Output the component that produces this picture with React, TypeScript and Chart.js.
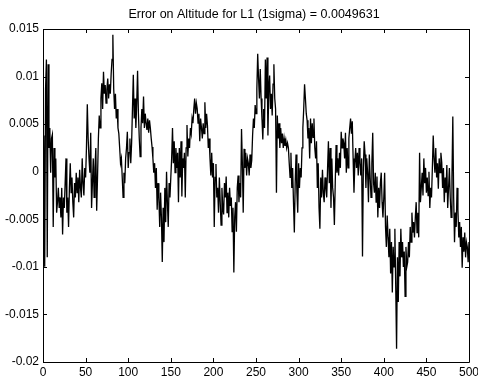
import React, { useEffect, useRef } from "react";
import { Chart, registerables } from "chart.js";

Chart.register(...registerables);

const titleText = "Error on Altitude for L1 (1sigma) = 0.0049631";

const xTickValues = [0, 50, 100, 150, 200, 250, 300, 350, 400, 450, 500];
const xTickLabels = ["0", "50", "100", "150", "200", "250", "300", "350", "400", "450", "500"];
const yTickValues = [0.015, 0.01, 0.005, 0, -0.005, -0.01, -0.015, -0.02];
const yTickLabels = ["0.015", "0.01", "0.005", "0", "-0.005", "-0.01", "-0.015", "-0.02"];

// altitude error per sample (samples 1..500)
const altitudeError = [
  38e-4, -100e-4, 87e-4, 118e-4, -90e-4, 113e-4, 25e-4, 46e-4, -1e-4, 35e-4,
  39e-4, -58e-4, 25e-4, -6e-4, 14e-4, -43e-4, -32e-4, -17e-4, -38e-4, -27e-4,
  -48e-4, -17e-4, -66e-4, -27e-4, -38e-4, -12e-4, 14e-4, -43e-4, -27e-4, -58e-4,
  -17e-4, 9e-4, -22e-4, -6e-4, -32e-4, -48e-4, -12e-4, -27e-4, -1e-4, -22e-4,
  -6e-4, -32e-4, 2e-4, -17e-4, -27e-4, 14e-4, -12e-4, -25e-4, 4e-4, -6e-4,
  25e-4, 71e-4, 35e-4, 14e-4, -1e-4, 41e-4, -38e-4, -12e-4, 14e-4, -27e-4,
  4e-4, 25e-4, -41e-4, -6e-4, 35e-4, 59e-4, 46e-4, 77e-4, 93e-4, 66e-4,
  105e-4, 82e-4, 91e-4, 72e-4, 87e-4, 98e-4, 77e-4, 92e-4, 82e-4, 103e-4,
  118e-4, 144e-4, 87e-4, 66e-4, 82e-4, 56e-4, 66e-4, 46e-4, 40e-4, 25e-4,
  9e-4, 14e-4, -6e-4, -27e-4, -1e-4, -12e-4, 14e-4, 25e-4, 42e-4, 4e-4,
  20e-4, 35e-4, 9e-4, 30e-4, 66e-4, 102e-4, 56e-4, 77e-4, 46e-4, 72e-4,
  106e-4, 61e-4, 35e-4, 16e-4, 46e-4, 66e-4, 51e-4, 79e-4, 46e-4, 61e-4,
  51e-4, 44e-4, 56e-4, 41e-4, 54e-4, 46e-4, 35e-4, 26e-4, 14e-4, -1e-4,
  9e-4, -17e-4, 4e-4, -40e-4, -12e-4, -27e-4, -58e-4, -22e-4, -48e-4, -95e-4,
  -38e-4, -74e-4, -17e-4, -53e-4, 0, -32e-4, -58e-4, -12e-4, -27e-4, -6e-4,
  14e-4, 46e-4, 9e-4, 32e-4, -1e-4, 25e-4, 4e-4, 20e-4, -32e-4, 25e-4,
  -6e-4, 32e-4, -26e-4, 14e-4, 4e-4, 20e-4, -27e-4, 25e-4, 49e-4, 16e-4,
  35e-4, 25e-4, 46e-4, 40e-4, 56e-4, 51e-4, 66e-4, 77e-4, 61e-4, 72e-4,
  66e-4, 51e-4, 61e-4, 32e-4, 56e-4, 46e-4, 35e-4, 51e-4, 40e-4, 73e-4,
  46e-4, 61e-4, 49e-4, 25e-4, 35e-4, 14e-4, -4e-4, 20e-4, -6e-4, 9e-4,
  -58e-4, -6e-4, 8e-4, -27e-4, -17e-4, -43e-4, -6e-4, -32e-4, -56e-4, -17e-4,
  -38e-4, -45e-4, -12e-4, -27e-4, -5e-4, -43e-4, -22e-4, -48e-4, -17e-4, -36e-4,
  -27e-4, -63e-4, -38e-4, -106e-4, -48e-4, -32e-4, -63e-4, -17e-4, -4e-4, -32e-4,
  -12e-4, -27e-4, 45e-4, 9e-4, -43e-4, 24e-4, 4e-4, 20e-4, -4e-4, 14e-4,
  9e-4, -4e-4, 18e-4, 4e-4, 12e-4, 38e-4, 56e-4, 46e-4, 70e-4, 61e-4,
  87e-4, 124e-4, 98e-4, 77e-4, 108e-4, 77e-4, 56e-4, 34e-4, 66e-4, 46e-4,
  118e-4, 77e-4, 120e-4, 38e-4, 87e-4, 101e-4, 66e-4, 82e-4, 59e-4, 92e-4,
  113e-4, 77e-4, 66e-4, -22e-4, 59e-4, 35e-4, 51e-4, 25e-4, 46e-4, 30e-4,
  40e-4, 25e-4, 35e-4, 27e-4, 33e-4, 25e-4, 30e-4, 25e-4, 9e-4, -6e-4,
  20e-4, -17e-4, 4e-4, -32e-4, -64e-4, -12e-4, 18e-4, -22e-4, -43e-4, 9e-4,
  -17e-4, 4e-4, -6e-4, 25e-4, 46e-4, 66e-4, 92e-4, 77e-4, 61e-4, 54e-4,
  35e-4, 46e-4, 14e-4, 56e-4, 30e-4, 51e-4, 36e-4, 56e-4, 25e-4, 14e-4,
  32e-4, -17e-4, 9e-4, -38e-4, -60e-4, -6e-4, -27e-4, 2e-4, -22e-4, -32e-4,
  -6e-4, -17e-4, -27e-4, 4e-4, 32e-4, -12e-4, 25e-4, -38e-4, 14e-4, -17e-4,
  -27e-4, -56e-4, -12e-4, 28e-4, -1e-4, 14e-4, -4e-4, 20e-4, 4e-4, 42e-4,
  25e-4, 35e-4, 30e-4, 14e-4, 41e-4, -1e-4, 25e-4, 4e-4, 35e-4, 46e-4,
  56e-4, 40e-4, 53e-4, 14e-4, -22e-4, 9e-4, 25e-4, 4e-4, 20e-4, -4e-4,
  25e-4, 9e-4, -4e-4, 14e-4, -89e-4, 4e-4, 32e-4, 18e-4, -17e-4, 14e-4,
  -1e-4, -32e-4, 18e-4, -6e-4, -27e-4, 9e-4, 41e-4, -12e-4, -22e-4, -1e-4,
  -32e-4, -5e-4, -48e-4, -17e-4, -38e-4, -12e-4, -1e-4, -32e-4, -48e-4, -27e-4,
  -1e-4, -58e-4, -79e-4, -46e-4, -69e-4, -90e-4, -60e-4, -107e-4, -74e-4, -127e-4,
  -79e-4, -100e-4, -60e-4, -121e-4, -186e-4, -90e-4, -137e-4, -74e-4, -110e-4, -60e-4,
  -90e-4, -74e-4, -100e-4, -84e-4, -131e-4, -79e-4, -100e-4, -95e-4, -74e-4, -90e-4,
  -58e-4, -74e-4, -43e-4, -64e-4, -53e-4, -69e-4, -48e-4, -32e-4, -64e-4, -43e-4,
  -69e-4, 20e-4, -32e-4, -17e-4, -1e-4, -25e-4, 14e-4, -12e-4, 4e-4, -22e-4,
  -6e-4, -25e-4, 0, -38e-4, -17e-4, -27e-4, 4e-4, 38e-4, 14e-4, -1e-4,
  25e-4, -6e-4, 9e-4, -18e-4, 14e-4, -1e-4, 20e-4, 10e-4, -17e-4, 4e-4,
  -32e-4, -6e-4, -22e-4, 7e-4, -38e-4, -17e-4, 4e-4, -27e-4, -48e-4, -6e-4,
  58e-4, -27e-4, -74e-4, -43e-4, -58e-4, -17e-4, -40e-4, -69e-4, -53e-4, -79e-4,
  -58e-4, -101e-4, -69e-4, -84e-4, -64e-4, -90e-4, -74e-4, -79e-4, -95e-4, -74e-4,
];

const FONT_FAMILY = '"Liberation Sans", Arial, Helvetica, sans-serif';

const axesPlugin = {
  id: "matlabAxes",
  afterDraw(chart: any) {
    const { ctx, chartArea } = chart;
    const { left, right, top, bottom } = chartArea;
    const xs = chart.scales.x;
    const ys = chart.scales.y;
    const tl = 4;
    ctx.save();
    ctx.strokeStyle = "#000";
    ctx.lineWidth = 1;
    ctx.beginPath();
    ctx.rect(Math.round(left) + 0.5, Math.round(top) + 0.5, Math.round(right - left), Math.round(bottom - top));
    ctx.stroke();
    ctx.beginPath();
    xTickValues.forEach((v) => {
      const px = Math.round(xs.getPixelForValue(v)) + 0.5;
      ctx.moveTo(px, bottom);
      ctx.lineTo(px, bottom - tl);
      ctx.moveTo(px, top);
      ctx.lineTo(px, top + tl);
    });
    yTickValues.forEach((v) => {
      const py = Math.round(ys.getPixelForValue(v)) + 0.5;
      ctx.moveTo(left, py);
      ctx.lineTo(left + tl, py);
      ctx.moveTo(right, py);
      ctx.lineTo(right - tl, py);
    });
    ctx.stroke();

    ctx.fillStyle = "#000";
    ctx.font = `12px ${FONT_FAMILY}`;
    ctx.textAlign = "right";
    ctx.textBaseline = "middle";
    yTickValues.forEach((v, i) => {
      ctx.fillText(yTickLabels[i], left - 4, ys.getPixelForValue(v));
    });
    ctx.textAlign = "center";
    xTickValues.forEach((v, i) => {
      ctx.fillText(xTickLabels[i], xs.getPixelForValue(v), bottom + 11);
    });
    ctx.font = `12.5px ${FONT_FAMILY}`;
    ctx.fillText(titleText, (left + right) / 2 - 2, 15);
    ctx.restore();
  },
};

export default function App() {
  const canvasRef = useRef<HTMLCanvasElement | null>(null);

  useEffect(() => {
    if (!canvasRef.current) return;
    const points = altitudeError.map((v, i) => ({ x: i + 1, y: v }));
    const chart = new Chart(canvasRef.current, {
      type: "line",
      data: {
        datasets: [
          {
            data: points,
            borderColor: "#000",
            borderWidth: 1.3,
            pointRadius: 0,
            tension: 0,
            fill: false,
          },
        ],
      },
      options: {
        animation: false,
        responsive: false,
        devicePixelRatio: 1,
        parsing: false as any,
        layout: { padding: { left: 43, right: 9, top: 29, bottom: 21 } },
        plugins: {
          legend: { display: false },
          title: { display: false },
          tooltip: { enabled: false },
        },
        scales: {
          x: { type: "linear", display: false, min: 0, max: 500 },
          y: { type: "linear", display: false, min: -0.02, max: 0.015 },
        },
      },
      plugins: [axesPlugin],
    });
    return () => chart.destroy();
  }, []);

  return (
    <div style={{ position: "absolute", left: 0, top: 0, width: 478, height: 383, background: "#fff" }}>
      <canvas ref={canvasRef} width={478} height={383} style={{ display: "block" }} />
    </div>
  );
}
